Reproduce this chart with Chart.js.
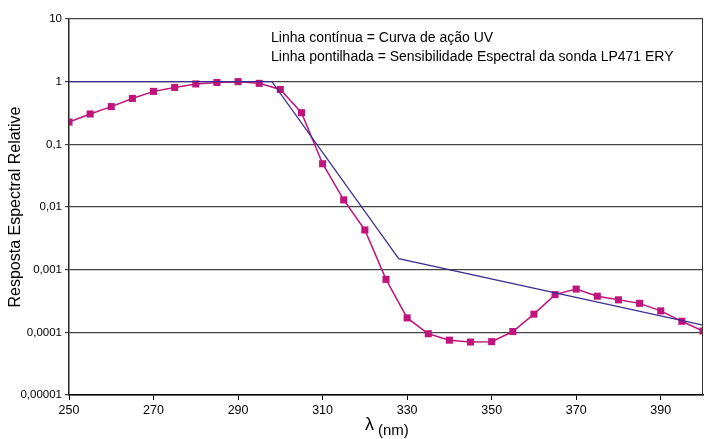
<!DOCTYPE html>
<html>
<head>
<meta charset="utf-8">
<script src="https://cdn.jsdelivr.net/npm/chart.js@4"></script>
<style>
	html, body { margin: 0; padding: 0; background: #fff; }
	#wrap { width: 704px; height: 439px; }
</style>
</head>
<body>
<div id="wrap"><canvas id="uvChart" width="704" height="439"></canvas></div>
<script>
// wavelengths (nm) of the probe's measured points
var probeLambda = [250, 255, 260, 265, 270, 275, 280, 285, 290, 295, 300, 305, 310, 315, 320, 325,
	330, 335, 340, 345, 350, 355, 360, 365, 370, 375, 380, 385, 390, 395, 400];
// spectral sensitivity of the LP471 ERY probe (dotted line)
var probeValues = [0.227, 0.305, 0.40, 0.54, 0.70, 0.81, 0.92, 0.97, 1.0, 0.94, 0.75, 0.32, 0.049, 0.013, 0.0043, 0.0007,
	0.00017, 0.000095, 0.000075, 0.00007, 0.000071, 0.000103, 0.000195, 0.0004, 0.00049, 0.000377, 0.00033, 0.00029, 0.00022, 0.00015, 0.000105];
// UV action curve (continuous line) break points
var actionLambda = [250, 298, 328, 400];
var actionValues = [1, 1, 0.0015, 0.00013];
// axis ticks
var xTicks = [250, 270, 290, 310, 330, 350, 370, 390];
var yTicks = [0.00001, 0.0001, 0.001, 0.01, 0.1, 1, 10];
var yTickLabels = ['0,00001', '0,0001', '0,001', '0,01', '0,1', '1', '10'];
var legendLines = ['Linha contínua = Curva de ação UV', 'Linha pontilhada = Sensibilidade Espectral da sonda LP471 ERY'];

var FONT = '"Liberation Sans", Arial, sans-serif';
var MAGENTA = '#c0147c';
var NAVY = '#3b2c8e';

function toPoints(xs, ys) {
	return xs.map(function(x, i) { return { x: x, y: ys[i] }; });
}

var extras = {
	id: 'extras',
	afterDraw: function(chart) {
		var ctx = chart.ctx, area = chart.chartArea;
		ctx.save();
		// right border of the plot
		ctx.strokeStyle = '#333';
		ctx.lineWidth = 1;
		ctx.beginPath();
		ctx.moveTo(Math.round(area.right) - 0.5, area.top);
		ctx.lineTo(Math.round(area.right) - 0.5, area.bottom);
		ctx.stroke();
		// note text
		ctx.fillStyle = '#000';
		ctx.font = '14px ' + FONT;
		ctx.textBaseline = 'alphabetic';
		ctx.textAlign = 'left';
		ctx.fillText(legendLines[0], 271, 42);
		ctx.fillText(legendLines[1], 271, 61);
		// x axis title: lambda (nm)
		ctx.font = '18px ' + FONT;
		ctx.fillText('λ', 365, 430);
		ctx.font = '15px ' + FONT;
		ctx.fillText('(nm)', 378, 435);
		ctx.restore();
	}
};

var chart = new Chart(document.getElementById('uvChart').getContext('2d'), {
	type: 'line',
	data: {
		datasets: [{
			label: 'Curva de ação UV',
			data: toPoints(actionLambda, actionValues),
			borderColor: NAVY,
			borderWidth: 1.2,
			pointRadius: 0,
			fill: false,
			tension: 0
		}, {
			label: 'Sensibilidade Espectral da sonda LP471 ERY',
			data: toPoints(probeLambda, probeValues),
			borderColor: MAGENTA,
			backgroundColor: MAGENTA,
			borderWidth: 1.5,
			pointStyle: 'rect',
			pointRadius: 5,
			pointBorderWidth: 0,
			fill: false,
			tension: 0
		}]
	},
	options: {
		responsive: false,
		animation: false,
		layout: { autoPadding: false, padding: { top: 19, right: 1, left: 0, bottom: 0 } },
		plugins: { legend: { display: false }, tooltip: { enabled: false } },
		scales: {
			x: {
				type: 'linear',
				min: 250,
				max: 400,
				afterBuildTicks: function(scale) {
					scale.ticks = xTicks.map(function(v) { return { value: v }; });
				},
				afterFit: function(scale) {
					scale.height = 44;
					scale.paddingLeft = 0;
					scale.paddingRight = 0;
				},
				grid: { drawOnChartArea: false, color: '#000', tickLength: 5, tickWidth: 1 },
				border: { color: '#000', width: 1.5 },
				ticks: { color: '#000', font: { family: FONT, size: 12.5 }, padding: 3, maxRotation: 0 }
			},
			y: {
				type: 'logarithmic',
				min: 0.00001,
				max: 10,
				afterBuildTicks: function(scale) {
					scale.ticks = yTicks.map(function(v) { return { value: v }; });
				},
				afterFit: function(scale) { scale.width = 69; },
				grid: { color: '#444', lineWidth: 1.2, tickLength: 4 },
				border: { color: '#222', width: 1.5 },
				ticks: {
					color: '#000',
					font: { family: FONT, size: 11.5 },
					padding: 3,
					callback: function(value) {
						var i = yTicks.indexOf(value);
						return i >= 0 ? yTickLabels[i] : '';
					}
				},
				title: {
					display: true,
					text: 'Resposta Espectral Relative',
					color: '#000',
					font: { family: FONT, size: 16 },
					padding: { top: 6, bottom: 4 }
				}
			}
		}
	},
	plugins: [extras]
});
</script>
</body>
</html>
